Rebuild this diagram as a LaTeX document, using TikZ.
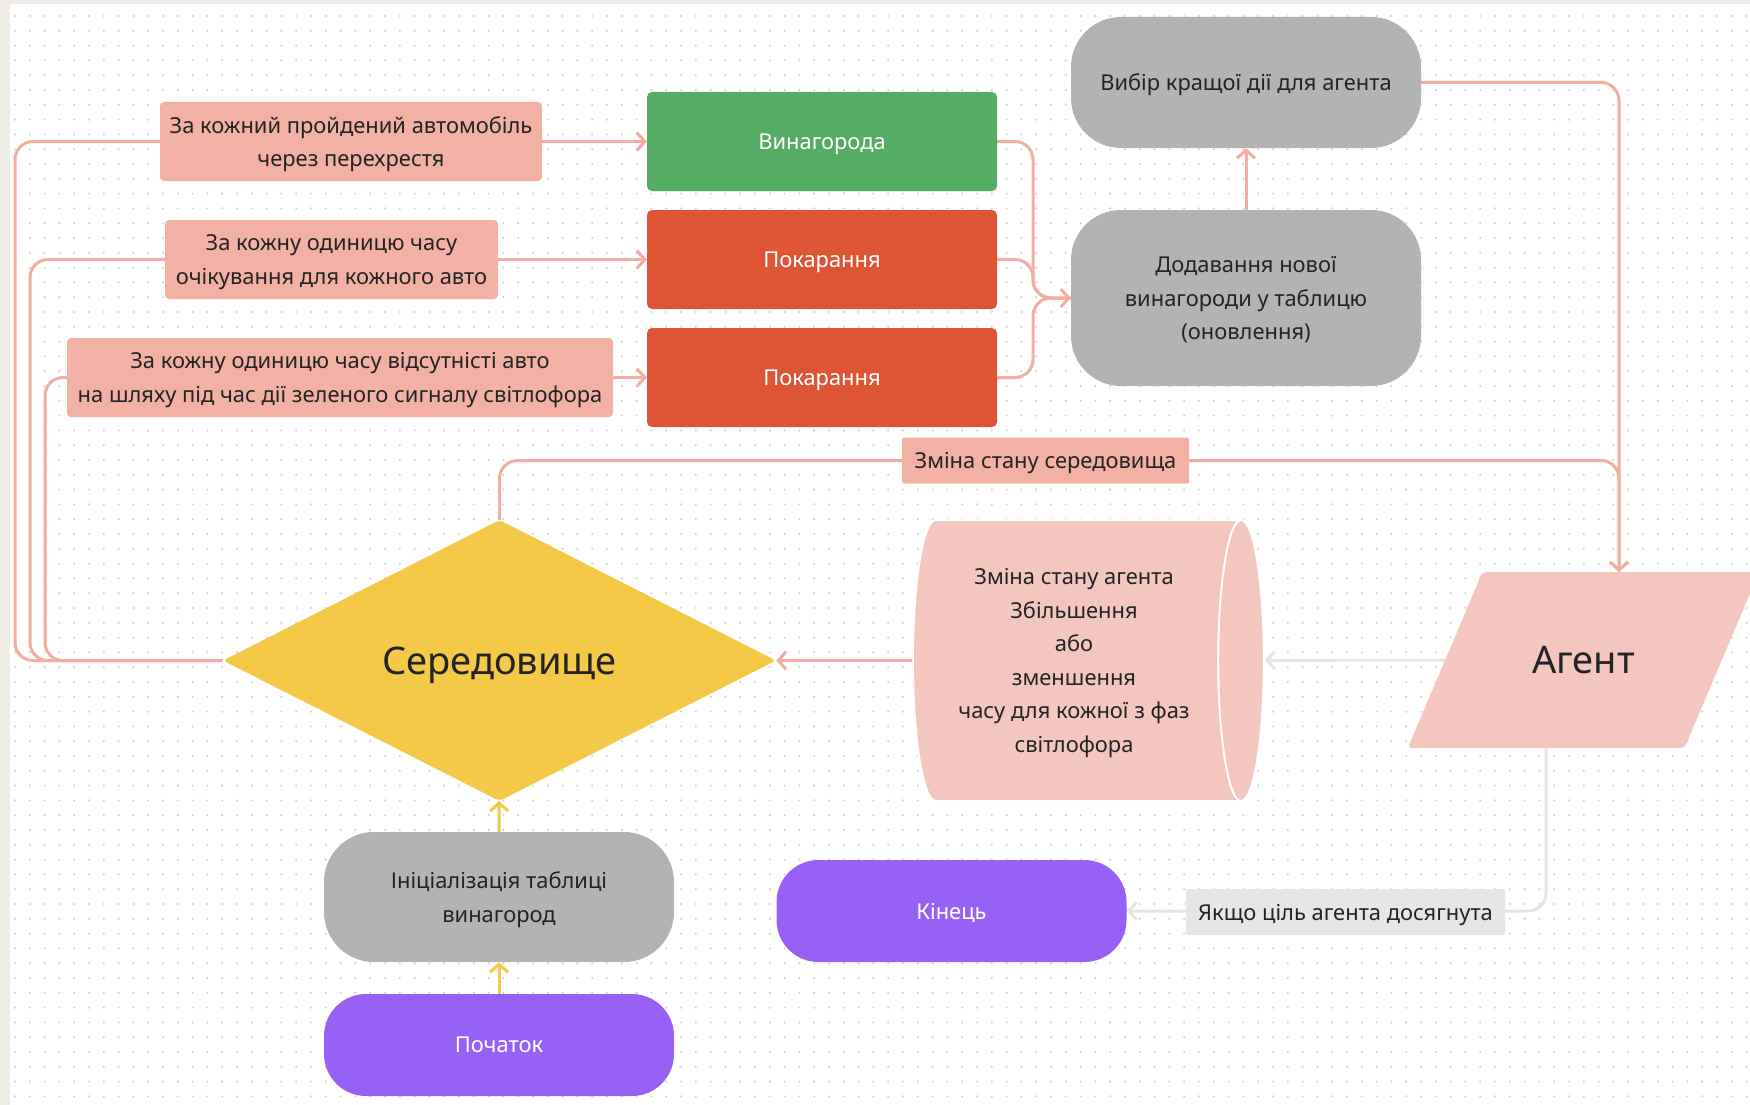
\documentclass[tikz,border=0pt]{standalone}
\usepackage{fontspec}
\setmainfont{Noto Sans}
\usetikzlibrary{shapes.geometric,arrows.meta}

\definecolor{paper}{HTML}{EFEDE6}
\definecolor{dotgray}{HTML}{D2D2D2}
\definecolor{condpink}{HTML}{F2B1A4}
\definecolor{linkpink}{HTML}{F3ADA1}
\definecolor{rewgreen}{HTML}{55AC65}
\definecolor{penred}{HTML}{DE5536}
\definecolor{stepgray}{HTML}{B3B3B3}
\definecolor{envyellow}{HTML}{F4C948}
\definecolor{agentpink}{HTML}{F3C6C0}
\definecolor{termviolet}{HTML}{9761F5}
\definecolor{notegray}{HTML}{E6E6E6}
\definecolor{inkdark}{HTML}{242424}

\pgfdeclarelayer{grid}
\pgfdeclarelayer{links}
\pgfsetlayers{grid,links,main}

\newcommand{\boxfont}{\fontsize{21.9}{33.5}\selectfont}
\newcommand{\bigfont}{\fontsize{38}{44}\selectfont}

\begin{document}
\begin{tikzpicture}[
    x=1pt, y=-1pt,
    cond/.style={rectangle, fill=condpink, rounded corners=4pt, align=center, text=inkdark, font=\boxfont, text depth=0pt, minimum height=79pt, inner xsep=8pt},
    outcome/.style={rectangle, rounded corners=5pt, text=white, font=\boxfont, text depth=0pt, minimum width=350pt, minimum height=99pt},
    stepbox/.style={rectangle, fill=stepgray, rounded corners=50pt, align=center, text=inkdark, font=\boxfont, text depth=0pt, minimum width=350pt},
    term/.style={rectangle, fill=termviolet, rounded corners=42pt, text=white, font=\boxfont, text depth=0pt, minimum width=350pt, minimum height=102pt},
    note/.style={rectangle, rounded corners=2pt, text=inkdark, font=\boxfont, text depth=0pt, minimum height=46pt, inner xsep=10pt},
    link/.style={draw=linkpink, line width=3pt, rounded corners=18pt},
    glink/.style={draw=notegray, line width=3pt, rounded corners=18pt},
    ylink/.style={draw=envyellow, line width=3pt},
    headed/.style={-{Straight Barb[length=8pt,width=18pt]}},
    dotrow/.style={draw=dotgray, line width=2.4pt, line cap=round, dash pattern=on 0pt off 14.8pt}
]
    \useasboundingbox (0,0) rectangle (1750,1105);
    \clip (0,0) rectangle (1750,1105);

    % dotted canvas
    \begin{pgfonlayer}{grid}
        \fill[paper] (0,0) rectangle (1750,1105);
        \fill[white] (10,4) rectangle (1750,1105);
        \foreach \r in {0,...,73}
            \draw[dotrow] (15,16+\r*14.8) -- (1750,16+\r*14.8);
    \end{pgfonlayer}

    % conditions
    \node[cond, minimum width=382pt] (carPassed) at (351,141.5) {За кожний пройдений автомобіль\\через перехрестя};
    \node[cond, minimum width=333pt] (carWaiting) at (331.5,259.5) {За кожну одиницю часу\\очікування для кожного авто};
    \node[cond, minimum width=546pt] (laneEmpty) at (340,377.5) {За кожну одиницю часу відсутністі авто\\на шляху під час дії зеленого сигналу світлофора};

    % reward and penalties
    \node[outcome, fill=rewgreen] (reward) at (822,141.5) {Винагорода};
    \node[outcome, fill=penred] (penaltyA) at (822,259.5) {Покарання};
    \node[outcome, fill=penred] (penaltyB) at (822,377.5) {Покарання};

    % table steps
    \node[stepbox, minimum height=131pt] (choose) at (1246,82.5) {Вибір кращої дії для агента};
    \node[stepbox, minimum height=176pt] (update) at (1246,298) {Додавання нової\\винагороди у таблицю\\(оновлення)};

    % environment, state change, agent
    \node[shape=diamond, fill=envyellow, rounded corners=4pt, aspect=2, minimum width=553pt, minimum height=281pt, font=\bigfont, text depth=0pt, text=inkdark] (env) at (499.5,660.5) {Середовище};
    \node[shape=cylinder, aspect=0.24, fill=agentpink, draw=white, line width=2pt, minimum height=351pt, minimum width=281pt, align=center, font=\boxfont, text depth=0pt, text=inkdark] (change) at (1074,660.5) {Зміна стану агента\\Збільшення\\або\\зменшення\\часу для кожної з фаз\\світлофора};
    \node[shape=trapezium, trapezium left angle=67, trapezium right angle=113, fill=agentpink, rounded corners=4pt, inner sep=0pt, text width=202pt, align=center, text height=101pt, text depth=75pt, font=\bigfont, text=inkdark] (agent) at (1583.5,660) {Агент};

    % start and end
    \node[stepbox, minimum height=130pt] (init) at (499,897) {Ініціалізація таблиці\\винагород};
    \node[term] (start) at (499,1045) {Початок};
    \node[term] (finish) at (951.5,911) {Кінець};

    % connector labels
    \node[note, fill=condpink, minimum width=287pt] (envChange) at (1045.5,460.5) {Зміна стану середовища};
    \node[note, fill=notegray, minimum width=319pt] (goalReached) at (1345.5,912) {Якщо ціль агента досягнута};

    \coordinate (railA) at (15,660.5);
    \coordinate (railB) at (30,660.5);
    \coordinate (railC) at (45,660.5);
    \coordinate (joinUpd) at (1033,298);
    \coordinate (agentTop) at (1619,572);
    \coordinate (agentBot) at (1546,748);

    \begin{pgfonlayer}{links}
        \draw[link] (carPassed.west) -| (railA) -- (env.west);
        \draw[link] (carWaiting.west) -| (railB) -- (env.west);
        \draw[link] (laneEmpty.west) -| (railC) -- (env.west);
        \draw[link,headed] (carPassed) -- (reward);
        \draw[link,headed] (carWaiting) -- (penaltyA);
        \draw[link,headed] (laneEmpty) -- (penaltyB);

        \draw[link] (reward.east) -| (joinUpd) -- (update.west);
        \draw[link,headed] (penaltyA.east) -| (joinUpd) -- (update.west);
        \draw[link] (penaltyB.east) -| (joinUpd) -- (update.west);
        \draw[link,headed] (update) -- (choose);

        \draw[link,headed] (choose.east) -| (agentTop);
        \draw[link,headed] (env.north) |- (envChange.center) -| (agentTop);
        \draw[glink,headed] (agent) -- (change);
        \draw[link,headed] (change) -- (env);
        \draw[glink,headed] (agentBot) |- (finish.east);

        \draw[ylink,headed] (init) -- (env);
        \draw[ylink,headed] (start) -- (init);
    \end{pgfonlayer}
\end{tikzpicture}
\end{document}
